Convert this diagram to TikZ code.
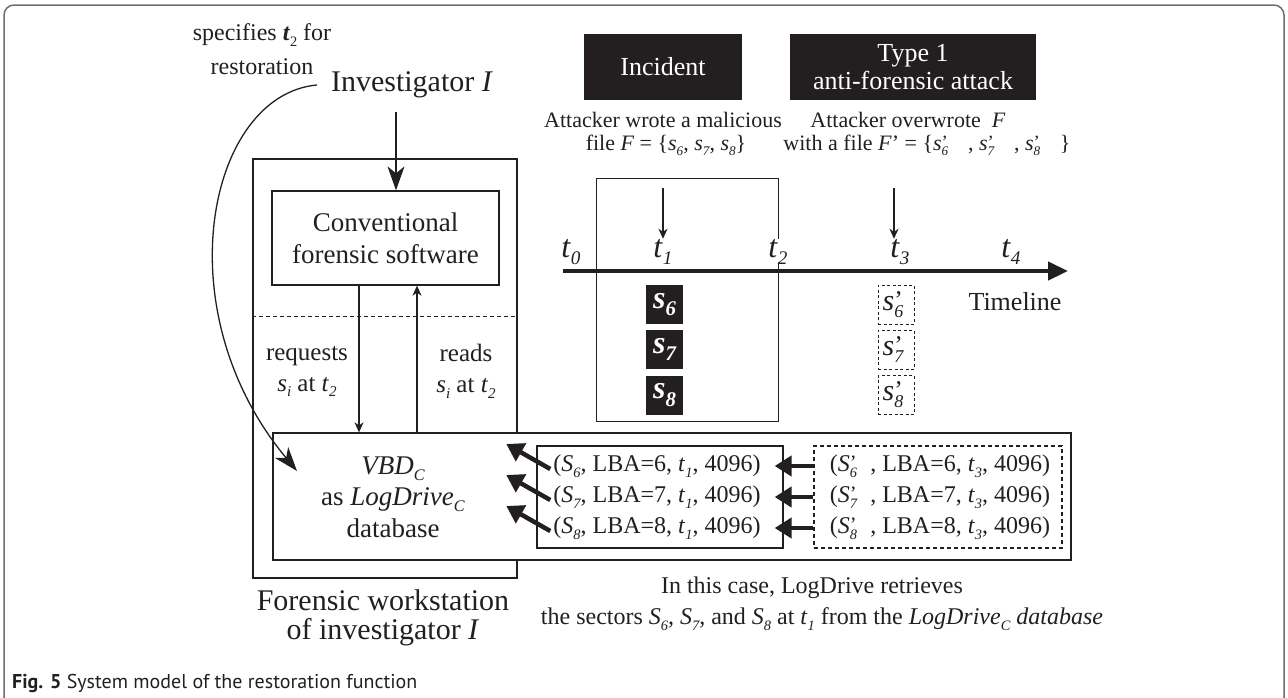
\documentclass[tikz,border=0pt]{standalone}
\usepackage{fontspec}
\setmainfont{Liberation Serif}
\newfontfamily\capfont{PT Sans}
\usetikzlibrary{arrows.meta}
\definecolor{ink}{HTML}{231F20}
\definecolor{framec}{HTML}{6D6E71}
\newcommand\sbx[1]{\raisebox{-0.5ex}{\scalebox{0.6}{\itshape #1}}}
\newcommand\vv[2]{\textit{#1}\sbx{#2}}
\newcommand\prm{\rlap{\raisebox{0.15ex}{\scalebox{0.85}{’}}}}
\newcommand\vp[2]{\textit{#1}\prm\sbx{#2}}
\newcommand\bsv[1]{\textbf{\textit{s}}\raisebox{-0.5ex}{\scalebox{0.65}{\bfseries\itshape #1}}}
\tikzset{
  every node/.style={inner sep=0pt, text=ink, align=center},
  fa/.style={font=\fontsize{22}{25}\selectfont},
  fb/.style={font=\fontsize{24}{32}\selectfont},
  fc/.style={font=\fontsize{26}{28}\selectfont},
  fd/.style={font=\fontsize{27}{32}\selectfont},
  fe/.style={font=\fontsize{30}{32}\selectfont},
  ft/.style={font=\fontsize{32}{32}\selectfont},
  box/.style={draw=ink, line width=1.3pt},
  blk/.style={fill=ink, text=white},
  bigarr/.style={draw=ink, line width=1.3pt, -{Stealth[length=24pt, width=17pt, inset=7pt]}},
  thinarr/.style={draw=ink, line width=1.3pt, -{Stealth[length=10pt, width=9pt, inset=3pt]}},
  thickarr/.style={draw=ink, line width=4.5pt, -{Triangle[length=17pt, width=20pt]}},
}
\begin{document}
\begin{tikzpicture}[x=1pt, y=-1pt]
\useasboundingbox (0,0) rectangle (1288,697);
% outer frame
\draw[framec, line width=1.5pt, rounded corners=10pt] (4,720) -- (4,5) -- (1284,5) -- (1284,720);

% investigator
\node[fe] (inv) at (412,85) {Investigator \textit{I}};
\node[fb] (spec1) at (262,35) {specifies \textbf{\textit{t}}\raisebox{-0.5ex}{\scalebox{0.6}{2}} for};
\node[fb] (spec2) at (262,67) {restoration};

% workstation
\node[box, minimum width=264, minimum height=419] (ws) at (385,368.5) {};
\node[box, fd, minimum width=227, minimum height=94] (conv) at (385.5,238) {Conventional\\forensic software};
\coordinate (ia) at (396,0);
\draw[bigarr, shorten <=14pt] (inv.south -| ia) -- (conv.north -| ia);
\coordinate (dl) at (0,316);
\draw[ink, line width=1pt, dash pattern=on 4pt off 3pt] (ws.west |- dl) -- (ws.east |- dl);

% big bottom box
\node[box, fill=white, minimum width=798, minimum height=127] (vbd) at (672,496.5) {};
\node[font=\fontsize{27}{31.5}\selectfont] (vbdt) at (393,497) {\vv{VBD}{C}\\as \vv{LogDrive}{C}\\database};

\coordinate (rq) at (359,0);
\coordinate (rd) at (417,0);
\draw[thinarr] (conv.south -| rq) -- (vbd.north -| rq);
\draw[thinarr] (vbd.north -| rd) -- (conv.south -| rd);
\node[font=\fontsize{25}{31}\selectfont] (req) at (307,371.5) {requests\\\vv{s}{i} at \vv{t}{2}};
\node[font=\fontsize{25}{31}\selectfont] (rds) at (466,371.5) {reads\\\vv{s}{i} at \vv{t}{2}};

% curve from investigator
\coordinate (ct) at (297,471);
\draw[bigarr] ([xshift=-14pt]inv.west) .. controls (208,95) and (163,310) .. (ct);

\node[fe] (fw1) at (383,600) {Forensic workstation};
\node[fe] (fw2) at (383,632) {of investigator \textit{I}};

% tuples
\node[box, minimum width=246, minimum height=102] (tup) at (660,497) {};
\node[fb] (r1) at (657,466) {(\vv{S}{6}, LBA=6, \vv{t}{1}, 4096)};
\node[fb] (r2) at (657,497) {(\vv{S}{7}, LBA=7, \vv{t}{1}, 4096)};
\node[fb] (r3) at (657,528) {(\vv{S}{8}, LBA=8, \vv{t}{1}, 4096)};
\node[box, dashed, dash pattern=on 4pt off 3pt, minimum width=248, minimum height=102] (dtup) at (938,497) {};
\node[fb] (d1) at (940,466) {(\vp{S}{6}\hspace{0.55em}, LBA=6, \vv{t}{3}, 4096)};
\node[fb] (d2) at (940,497) {(\vp{S}{7}\hspace{0.55em}, LBA=7, \vv{t}{3}, 4096)};
\node[fb] (d3) at (940,528) {(\vp{S}{8}\hspace{0.55em}, LBA=8, \vv{t}{3}, 4096)};
\foreach \r/\d in {r1/d1, r2/d2, r3/d3}{
  \draw[thickarr, shorten >=-9pt] (dtup.west |- \d) -- (tup.east |- \r);
  \draw[thickarr] ([xshift=-3pt, yshift=-3pt]\r.west) -- ++(-44,-25);
}

\node[fb] (case1) at (812,588) {In this case, LogDrive retrieves};
\node[fb] (case2) at (822,619) {the sectors \vv{S}{6}, \vv{S}{7}, and \vv{S}{8} at \vv{t}{1} from the \textit{LogDrive}\sbx{C} \textit{database}};

% top right
\node[blk, fc, minimum width=158, minimum height=66] (inc) at (663,67) {Incident};
\node[blk, fc, minimum width=246, minimum height=66] (typ) at (913,67) {Type 1\\anti-forensic attack};
\node[fa] (aw1) at (663,120) {Attacker wrote a malicious};
\node[fa] (aw2) at (666,145) {file \textit{F} = \{\vv{s}{6}, \vv{s}{7}, \vv{s}{8}\}};
\node[fa] (ao1) at (908,120) {Attacker overwrote \ \textit{F}};
\node[fa] (ao2) at (927,145) {with a file \textit{F}’ = \{\vp{s}{6}\hspace{0.9em}, \vp{s}{7}\hspace{0.9em}, \vp{s}{8}\hspace{0.9em}\}};

% incident time box
\node[box, minimum width=182, minimum height=243, anchor=north west] (ibox) at (596,178) {};

% timeline
\coordinate (tl0) at (563,271);
\coordinate (tl1) at (1068,271);
\draw[draw=ink, line width=4.5pt, -{Triangle[length=20pt, width=18pt]}] (tl0) -- (tl1);
\node[ft, anchor=base] (t0) at (571,257) {\vv{t}{0}};
\node[ft, anchor=base] (t1) at (663,257) {\vv{t}{1}};
\node[ft, anchor=base, fill=white, inner xsep=1pt] (t2) at (778,257) {\vv{t}{2}};
\node[ft, anchor=base] (t3) at (900,257) {\vv{t}{3}};
\node[ft, anchor=base] (t4) at (1011,257) {\vv{t}{4}};
\coordinate (a1) at (663,188);
\coordinate (a3) at (894,188);
\draw[thinarr] (a1) -- (a1 |- t1.north);
\draw[thinarr] (a3) -- (a3 |- t3.north);
\node[fc] (tlt) at (1015,302) {Timeline};

% sectors
\foreach \n/\y in {6/304.5, 7/349.5, 8/395}{
  \node[blk, ft, minimum width=37, minimum height=39] (s\n) at (664.5,\y) {\bsv{\n}};
  \node[box, dashed, dash pattern=on 3pt off 2.5pt, line width=1pt, fe, minimum width=36, minimum height=39] (sp\n) at (896,\y) {\vp{s}{\n}\hspace{0.2em}};
}

% caption
\node[anchor=west, font=\capfont\fontsize{20}{24}\selectfont] (cap) at (12,683) {\textbf{Fig. 5} System model of the restoration function};
\end{tikzpicture}
\end{document}
